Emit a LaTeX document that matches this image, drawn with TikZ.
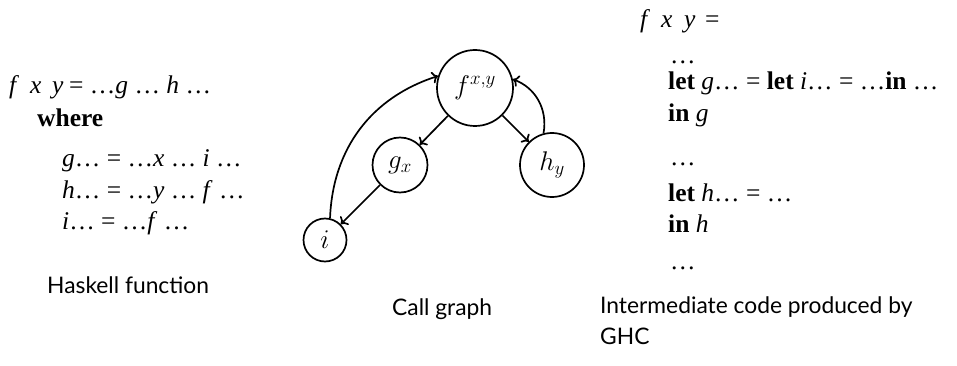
\RequirePackage{fix-cm}
\documentclass[tikz,border=0pt]{standalone}
\usepackage{fontspec}
\setmainfont{Liberation Serif}
\newfontfamily\capfont{Lato}
\usetikzlibrary{arrows.meta}
\tikzset{
  px/.style={x=1pt,y=-1pt},
  code/.style={anchor=base west,inner sep=0pt,font=\fontsize{25.5}{30}\selectfont},
  caption/.style={anchor=base west,inner sep=0pt,font=\capfont\fontsize{22.8}{27}\selectfont},
  vertex/.style={circle,draw,line width=1.7pt,inner sep=0pt,font=\fontsize{27}{30}\selectfont},
  edge/.style={line width=1.7pt,-{To[length=6pt,width=12pt]}}
}
\newcommand{\dd}{\ldots}
\newcommand{\fxy}[3]{\makebox[#1][l]{\textit{f}}\makebox[#2][l]{\textit{x}}\makebox[#3][l]{\textit{y}}}
\begin{document}
\begin{tikzpicture}[px]
\useasboundingbox (0,0) rectangle (957,366);
% left code
\node[code] (l1) at (9,94) {\fxy{21pt}{22pt}{17pt}= \dd\textit{g} \dd\ \textit{h} \dd};
\node[code] (l2) at (37,127) {\textbf{where}};
\node[code] (l3) at (62,167) {\textit{g}\dd\ = \dd\textit{x} \dd\ \textit{i} \dd};
\node[code] (l4) at (62,198) {\textit{h}\dd\ = \dd\textit{y} \dd\ \textit{f} \dd};
\node[code] (l5) at (62,229) {\textit{i}\dd\ = \dd\textit{f} \dd};
\node[caption] (c1) at (47,293) {Haskell function};
% graph
\node[vertex,minimum size=76pt] (f) at (475,88) {$f^{x,y}$};
\node[vertex,minimum size=55pt] (g) at (400,165) {$g_x$};
\node[vertex,minimum size=64pt] (h) at (552,165) {$h_y$};
\node[vertex,minimum size=43pt] (i) at (325,240) {$i$};
\draw[edge] (f) -- (g);
\draw[edge] (g) -- (i);
\draw[edge] (f) -- (h);
\draw[edge] (i.77) to[bend left=35] (f.162);
\draw[edge] (h.105) to[bend right=40] (f.13);
\node[caption] (c2) at (392,315) {Call graph};
% right code
\node[code] (r1) at (640,28) {\fxy{21pt}{23pt}{21pt}=};
\node[code] (r2) at (670,64) {\dd};
\node[code] (r3) at (668,90) {\textbf{let} \textit{g}\dd\ = \textbf{let} \textit{i}\dd\ = \dd\textbf{in} \dd};
\node[code] (r4) at (668,122) {\textbf{in} \textit{g}};
\node[code] (r5) at (670,165) {\dd};
\node[code] (r6) at (668,201) {\textbf{let} \textit{h}\dd\ = \dd};
\node[code] (r7) at (668,232) {\textbf{in} \textit{h}};
\node[code] (r8) at (670,269) {\dd};
\node[caption] (c3) at (600,313) {Intermediate code produced by};
\node[caption] (c4) at (600,344) {GHC};
\end{tikzpicture}
\end{document}
